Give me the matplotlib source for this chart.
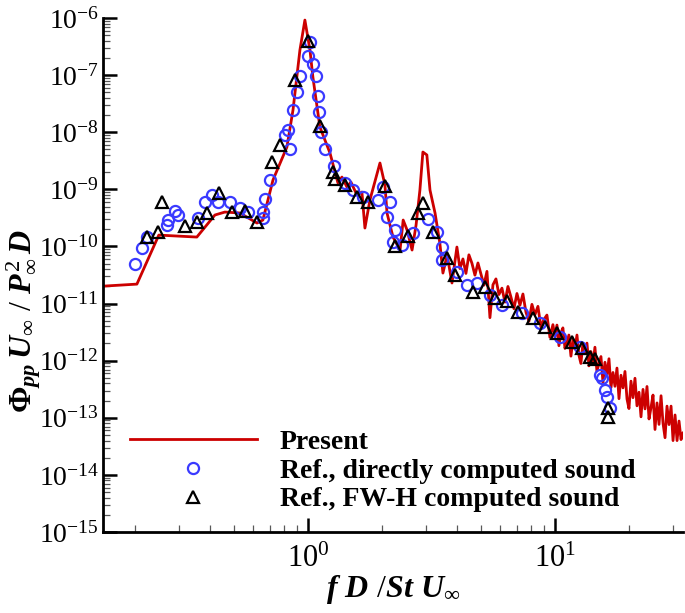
import matplotlib
matplotlib.use("Agg")
import matplotlib.pyplot as plt
from matplotlib.ticker import LogLocator, FixedLocator, NullFormatter

plt.rcParams['font.family'] = ['Liberation Serif', 'DejaVu Serif']
plt.rcParams['mathtext.fontset'] = 'custom'
plt.rcParams['mathtext.rm'] = 'Liberation Serif'
plt.rcParams['mathtext.it'] = 'Liberation Serif:italic:bold'
plt.rcParams['mathtext.bf'] = 'Liberation Serif:bold'

# ---- data: "Present" spectrum ----
present_x = [0.149, 0.203, 0.249, 0.355, 0.420, 0.461, 0.530, 0.622, 0.657, 0.722,
             0.822, 0.870, 0.928, 0.972, 1.019, 1.047, 1.118, 1.228, 1.323, 1.373,
             1.438, 1.493, 1.579, 1.654, 1.701, 1.782, 1.957, 2.05, 2.09, 2.21,
             2.36, 2.43, 2.52, 2.64, 2.74, 2.84, 2.92, 3.03, 3.12, 3.27,
             3.42, 3.52, 3.66, 3.83,
             4.01, 4.125, 4.242, 4.362, 4.485, 4.613, 4.744, 4.879, 5.017, 5.160,
             5.306, 5.456, 5.611, 5.770, 5.934, 6.102, 6.276, 6.453, 6.636, 6.824,
             7.018, 7.217, 7.421, 7.632, 7.848, 8.071, 8.299, 8.534, 8.777, 9.026,
             9.281, 9.545, 9.815,
             10.0, 10.19, 10.38, 10.57, 10.77, 10.98, 11.18, 11.39, 11.61, 11.83,
             12.05, 12.28, 12.51, 12.74, 12.98, 13.23, 13.48, 13.73, 13.99, 14.25,
             14.52, 14.79, 15.07, 15.36, 15.65, 15.94, 16.24, 16.55, 16.86, 17.18,
             17.50, 17.83, 18.17, 18.51, 18.86, 19.21, 19.58, 19.94, 20.32, 20.70,
             21.09, 21.49, 21.90, 22.31, 22.73, 23.16, 23.59, 24.04, 24.49, 24.95,
             25.42, 25.90, 26.39, 26.89, 27.39, 27.91, 28.43, 28.97, 29.52, 30.07,
             30.64, 31.22, 31.80, 32.40, 33.0]
present_y = [2.02e-11, 2.19e-11, 1.58e-10, 1.46e-10, 3.55e-10, 4.0e-10, 3.85e-10, 2.57e-10, 2.9e-10, 1.46e-9,
             5.5e-9, 2.45e-8, 2.75e-7, 9.2e-7, 2.75e-7, 9.3e-8, 1.23e-8, 4.33e-9, 1.29e-9, 1.64e-9,
             1.10e-9, 1.34e-9, 7.94e-10, 8.97e-10, 2.10e-10, 6.5e-10, 2.89e-9, 1.19e-9, 3.85e-10, 1.46e-10,
             8.65e-11, 2.9e-10, 1.94e-10, 8.65e-11, 2.37e-10, 9.7e-10, 4.5e-9, 4.0e-9, 9.7e-10, 3.85e-10,
             1.15e-10, 3.42e-11, 7.06e-11, 2.29e-11,
             9.76e-11, 4.10e-11, 6.04e-11, 3.37e-11, 7.13e-11, 5.08e-11, 3.14e-11, 5.14e-11, 3.31e-11, 2.10e-11,
             3.66e-11, 5.66e-12, 2.13e-11, 2.70e-11, 1.44e-11, 1.86e-11, 1.06e-11, 1.99e-11, 1.30e-11, 8.14e-12,
             1.50e-11, 9.34e-12, 1.47e-11, 7.07e-12, 4.90e-12, 9.68e-12, 6.37e-12, 8.93e-12, 3.89e-12, 5.27e-12,
             6.29e-12, 2.56e-12, 4.27e-12,
             2.61e-12, 4.20e-12, 1.83e-12, 3.02e-12, 3.75e-12, 1.64e-12, 2.03e-12, 2.81e-12, 1.20e-12, 2.39e-12,
             1.60e-12, 2.81e-12, 1.24e-12, 8.93e-13, 1.99e-12, 1.32e-12, 2.03e-12, 8.11e-13, 1.44e-12, 8.58e-13,
             1.72e-12, 6.57e-13, 8.79e-13, 1.18e-12, 4.15e-13, 9.37e-13, 5.60e-13, 1.08e-12, 3.37e-13, 6.21e-13,
             3.56e-13, 7.42e-13, 2.16e-13, 5.55e-13, 3.34e-13, 6.47e-13, 2.13e-13, 1.45e-13, 4.38e-13, 2.25e-13,
             4.92e-13, 1.62e-13, 2.80e-13, 1.04e-13, 3.14e-13, 1.43e-13, 3.53e-13, 9.53e-14, 1.51e-13, 2.50e-13,
             6.24e-14, 1.82e-13, 7.66e-14, 2.43e-13, 8.04e-14, 4.48e-14, 1.60e-13, 7.60e-14, 1.60e-13, 3.99e-14,
             1.12e-13, 3.99e-14, 8.76e-14, 4.15e-14, 5.40e-14]

# ---- data: Ref., directly computed sound ----
direct_x = [0.199, 0.213, 0.223, 0.269, 0.271, 0.289, 0.298, 0.359, 0.383, 0.409,
            0.432, 0.483, 0.530, 0.572, 0.657, 0.657, 0.670, 0.702, 0.807, 0.830,
            0.846, 0.870, 0.903, 0.928, 1.0, 1.019, 1.047, 1.078, 1.098, 1.108,
            1.129, 1.172, 1.274, 1.412, 1.521, 1.670, 1.920, 2.013, 2.148, 2.089,
            2.251, 2.209, 2.402, 2.662, 3.06, 3.33, 3.49, 3.49, 4.01, 4.40,
            4.83, 5.46, 6.10, 7.35, 8.70, 10.48, 12.63, 15.22, 15.5, 15.94,
            16.24, 16.70]
direct_y = [4.92e-11, 9.38e-11, 1.46e-10, 2.37e-10, 2.90e-10, 4.17e-10, 3.55e-10, 3.14e-10, 6.0e-10, 7.94e-10,
            6.0e-10, 6.0e-10, 4.71e-10, 4.0e-10, 3.14e-10, 4.0e-10, 6.76e-10, 1.46e-9, 8.93e-9, 1.09e-8,
            5.08e-9, 2.45e-8, 5.06e-8, 9.64e-8, 2.16e-7, 3.80e-7, 1.56e-7, 9.64e-8, 4.31e-8, 2.26e-8,
            1.01e-8, 5.08e-9, 2.56e-9, 1.29e-9, 9.7e-10, 7.33e-10, 6.5e-10, 1.10e-9, 6.0e-10, 3.27e-10,
            1.94e-10, 1.19e-10, 1.06e-10, 1.72e-10, 3.02e-10, 1.79e-10, 9.76e-11, 5.78e-11, 3.56e-11, 2.11e-11,
            2.29e-11, 1.41e-11, 9.41e-12, 6.82e-12, 4.56e-12, 2.59e-12, 1.73e-12, 5.6e-13, 4.96e-13, 3.05e-13,
            2.31e-13, 1.48e-13]

# ---- data: Ref., FW-H computed sound ----
fwh_x = [0.223, 0.247, 0.256, 0.318, 0.355, 0.390, 0.436, 0.492, 0.556, 0.622,
         0.715, 0.770, 0.886, 1.0, 1.118, 1.262, 1.286, 1.412, 1.579, 1.749,
         2.05, 2.251, 2.54, 2.79, 2.92, 3.21, 3.66, 3.94, 4.66, 5.21,
         5.72, 6.39, 7.09, 8.15, 9.11, 10.19, 11.72, 12.87, 13.87, 14.52,
         16.40, 16.47]
fwh_y = [1.46e-10, 1.79e-10, 6.0e-10, 2.28e-10, 2.67e-10, 3.85e-10, 8.61e-10, 4.0e-10, 4.17e-10, 2.67e-10,
         3.01e-9, 5.97e-9, 8.2e-8, 3.96e-7, 1.29e-8, 2.01e-9, 1.51e-9, 1.19e-9, 7.33e-10, 6.0e-10,
         1.14e-9, 1.02e-10, 1.52e-10, 3.85e-10, 5.75e-10, 1.79e-10, 6.27e-11, 3.16e-11, 1.59e-11, 1.95e-11,
         1.25e-11, 1.11e-11, 7.10e-12, 5.57e-12, 3.88e-12, 3.04e-12, 2.12e-12, 1.66e-12, 1.16e-12, 1.07e-12,
         1.48e-13, 1.03e-13]

series_labels = ["Present", "Ref., directly computed sound", "Ref., FW-H computed sound"]
x_range = (0.148, 33.0)
y_range = (1e-15, 1e-6)

fig = plt.figure(figsize=(6.85, 6.13), dpi=100)
ax = fig.add_axes([103/685, 81/613, 580/685, 514/613])

ax.plot(present_x, present_y, color='#cc0000', lw=2.0, label=series_labels[0], zorder=2)
ax.plot(direct_x, direct_y, linestyle='none', marker='o', markersize=8, markerfacecolor='none',
        markeredgecolor='#3a3aff', markeredgewidth=1.6, label=series_labels[1], zorder=3)
ax.plot(fwh_x, fwh_y, linestyle='none', marker='^', markersize=9, markerfacecolor='none',
        markeredgecolor='black', markeredgewidth=1.6, label=series_labels[2], zorder=4)

ax.set_xscale('log')
ax.set_yscale('log')
ax.set_xlim(*x_range)
ax.set_ylim(*y_range)

ax.spines['top'].set_visible(False)
ax.spines['right'].set_visible(False)
ax.spines['left'].set_linewidth(2)
ax.spines['bottom'].set_linewidth(2)

ax.xaxis.set_major_locator(FixedLocator([1.0, 10.0]))
ax.xaxis.set_minor_locator(LogLocator(base=10, subs=[2, 3, 4, 5, 6, 7, 8, 9], numticks=20))
ax.xaxis.set_minor_formatter(NullFormatter())
ax.set_xticklabels([r'$10^{0}$', r'$10^{1}$'])

ydecs = list(range(-15, -5))
ax.yaxis.set_major_locator(FixedLocator([10.0**e for e in ydecs]))
ax.set_yticklabels([r'$10^{%d}$' % e for e in ydecs])
ax.yaxis.set_minor_locator(LogLocator(base=10, subs=[2, 3, 4, 5, 6, 7, 8, 9], numticks=30))
ax.yaxis.set_minor_formatter(NullFormatter())

ax.tick_params(which='major', direction='in', length=10, width=1.8)
ax.tick_params(which='minor', direction='in', length=5, width=0.9, color='0.35')
ax.tick_params(axis='y', which='major', pad=3, labelsize=20)
ax.tick_params(axis='x', which='major', pad=9, labelsize=22)

ax.set_xlabel(r'$f\ D\ /St\ U_{\infty}$', fontsize=23)
ax.xaxis.set_label_coords(0.5, -0.080)
ax.set_ylabel(r'$\mathbf{\Phi}_{pp}\,U_{\infty}\ /\ P^{2}_{\infty}\,D$', fontsize=23)
ax.yaxis.set_label_coords(-0.104, 0.41)

leg = ax.legend(loc='upper left', bbox_to_anchor=(27/580, 0.2), frameon=False,
                prop={'family': 'Liberation Serif', 'weight': 'bold', 'size': 20},
                handlelength=4.57, handletextpad=0.83, labelspacing=0.125,
                borderpad=0, borderaxespad=0, numpoints=1)

fig.savefig('out.png', dpi=100)
